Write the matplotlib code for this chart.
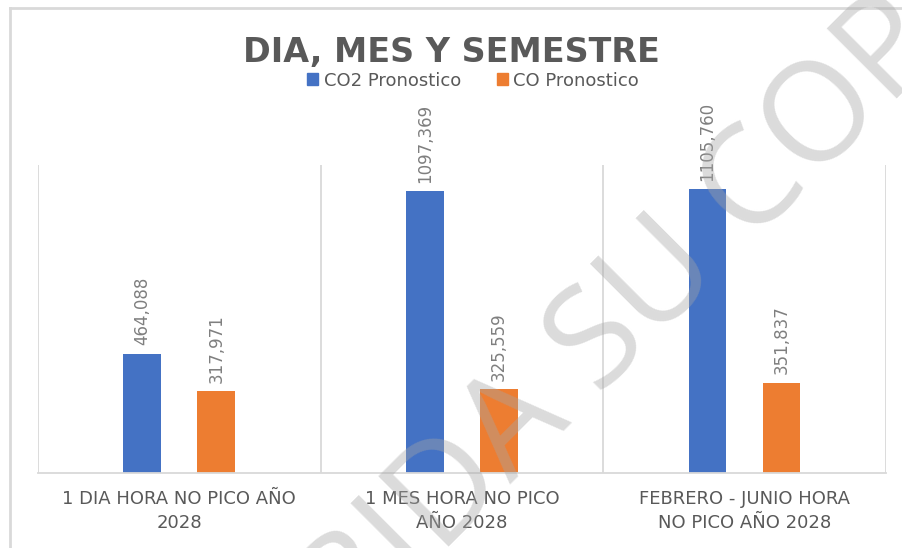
import numpy as np
import matplotlib
matplotlib.use("Agg")
import matplotlib.pyplot as plt
from matplotlib.lines import Line2D
from matplotlib.patches import Patch

categories = ["1 DIA HORA NO PICO AÑO\n2028",
              "1 MES HORA NO PICO\nAÑO 2028",
              "FEBRERO - JUNIO HORA\nNO PICO AÑO 2028"]
co2_values = [464088, 1097369, 1105760]
co_values = [317971, 325559, 351837]
series_names = ["CO2 Pronostico", "CO Pronostico"]

BLUE = "#4472C4"
ORANGE = "#ED7D31"
TEXT = "#595959"
GRID = "#d9d9d9"


def fmt_value(v):
    # only the last group of three digits is separated
    return f"{v // 1000},{v % 1000:03d}"


fig = plt.figure(figsize=(9.03, 5.48), dpi=100)
ax = fig.add_axes([0.042, 0.137, 0.939, 0.562])

x = np.arange(len(categories))
width = 0.134
offset = 0.131
ax.bar(x - offset, co2_values, width, color=BLUE, zorder=2)
ax.bar(x + offset, co_values, width, color=ORANGE, zorder=2)

# value labels above each bar, rotated
for xs, vals in ((x - offset, co2_values), (x + offset, co_values)):
    for xi, v in zip(xs, vals):
        ax.annotate(fmt_value(v), (xi, v), xytext=(0, 6), textcoords="offset points",
                    rotation=90, ha="center", va="bottom", fontsize=12, color="#7f7f7f")

ax.set_xlim(-0.5, len(categories) - 0.5)
ax.set_ylim(0, 1.2e6)
ax.set_xticks(x)
ax.set_xticklabels(categories, fontsize=13, color=TEXT, linespacing=1.45)
ax.tick_params(axis="x", length=0, pad=12)
ax.set_yticks([])

# vertical separators between categories
for b in np.arange(-0.5, len(categories), 1.0):
    ax.axvline(b, color=GRID, lw=1.3, zorder=1)

for side in ("top", "left", "right"):
    ax.spines[side].set_visible(False)
ax.spines["bottom"].set_color(GRID)
ax.spines["bottom"].set_linewidth(1.3)

fig.text(0.5, 0.905, "DIA, MES Y SEMESTRE", ha="center", va="center",
         fontsize=24, fontweight="bold", color=TEXT)

handles = [Patch(color=BLUE), Patch(color=ORANGE)]
fig.legend(handles, series_names, loc="center", bbox_to_anchor=(0.524, 0.853), ncol=2,
           frameon=False, fontsize=13, labelcolor=TEXT, handlelength=0.6,
           handleheight=0.6, handletextpad=0.3, columnspacing=2.0)

# chart frame (top and left edges)
fig.add_artist(Line2D([0.011, 1.0], [0.986, 0.986], transform=fig.transFigure,
                      color=GRID, lw=2))
fig.add_artist(Line2D([0.011, 0.011], [0.0, 0.986], transform=fig.transFigure,
                      color=GRID, lw=2))

# watermark
fig.text(0.575, 0.225, "PROHIBIDA SU COPIA", rotation=45, rotation_mode="anchor",
         ha="center", va="center", fontsize=100, family="Open Sans",
         color="#a6a6a6", alpha=0.4, zorder=10)

fig.savefig("out.png", dpi=100)
